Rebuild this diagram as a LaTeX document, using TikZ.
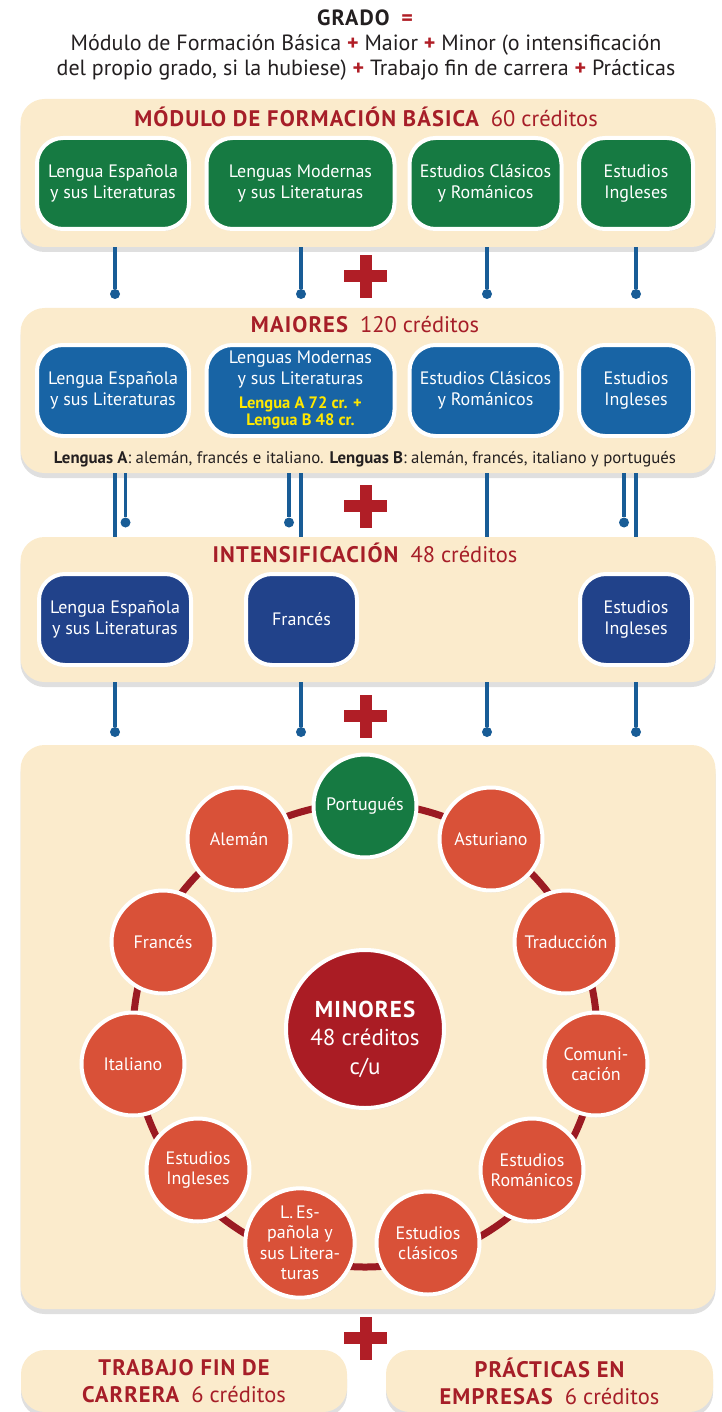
\documentclass[tikz,border=0pt]{standalone}
\usepackage{fontspec}
\setmainfont{PT Sans}
\newfontfamily\wideb[LetterSpace=5]{PT Sans}
\usetikzlibrary{shadows}
\definecolor{beige}{RGB}{251,235,204}
\definecolor{grn}{RGB}{22,122,66}
\definecolor{bluA}{RGB}{24,100,165}
\definecolor{bluB}{RGB}{33,66,138}
\definecolor{crc}{RGB}{217,81,56}
\definecolor{minred}{RGB}{170,28,36}
\definecolor{ttlred}{RGB}{166,30,40}
\definecolor{cblue}{RGB}{24,92,150}
\definecolor{ringred}{RGB}{155,26,34}
\definecolor{plsred}{RGB}{176,30,38}
\definecolor{hdtxt}{RGB}{35,31,32}
\definecolor{ylw}{RGB}{255,232,0}
\newcommand{\bw}[1]{{\wideb\bfseries #1}}
\begin{document}
\begin{tikzpicture}[x=1pt,y=-1pt,
  panel/.style={fill=beige, rounded corners=24pt, inner sep=0pt,
    drop shadow={shadow xshift=0pt, shadow yshift=-5pt, opacity=0.25}},
  ttl/.style={text=ttlred, font=\fontsize{22.5}{26}\selectfont, align=center, inner sep=0pt},
  cbox/.style={rounded corners=26pt, draw=white, line width=4pt, text=white, align=center,
    font=\fontsize{18}{20.5}\selectfont, minimum height=91pt, inner sep=0pt,
    drop shadow={shadow xshift=1pt, shadow yshift=-2pt, opacity=0.2}},
  gbox/.style={cbox, fill=grn},
  abox/.style={cbox, fill=bluA},
  bbox/.style={cbox, fill=bluB},
  conn/.style={draw=cblue, line width=3.5pt},
  dot/.style={circle, fill=cblue, inner sep=0pt, minimum size=10pt},
  mc/.style={circle, fill=crc, draw=white, line width=4pt, minimum size=103pt, inner sep=0pt,
    text=white, align=center, font=\fontsize{18}{20.5}\selectfont,
    drop shadow={shadow xshift=1pt, shadow yshift=-2pt, opacity=0.2}},
  pics/redplus/.style={code={
    \fill[plsred] (-21.5,-6) rectangle (21.5,6);
    \fill[plsred] (-6,-21.5) rectangle (6,21.5);}}
]
\path[use as bounding box] (0,0) rectangle (721,1412);

% header
\node[text=hdtxt, font=\fontsize{22}{26}\selectfont, inner sep=0pt] (h1) at (365,18) {\bw{GRADO}\ \ \textcolor{plsred}{\bw{=}}};
\node[text=hdtxt, font=\fontsize{22}{25}\selectfont, align=center, inner sep=0pt] (h2) at (366,58)
  {Módulo de Formación Básica \textcolor{plsred}{\textbf{+}} Maior \textcolor{plsred}{\textbf{+}} Minor (o intensificación\\
   del propio grado, si la hubiese) \textcolor{plsred}{\textbf{+}} Trabajo fin de carrera \textcolor{plsred}{\textbf{+}} Prácticas};

% panels
\node[panel, minimum width=695pt, minimum height=148pt] (p1) at (368,173) {};
\node[panel, minimum width=695pt, minimum height=165pt] (p2) at (368,390.5) {};
\node[panel, minimum width=695pt, minimum height=145pt] (p3) at (368,609.5) {};
\node[panel, minimum width=695pt, minimum height=564pt] (p4) at (368,1027) {};
\node[panel, minimum width=326pt, minimum height=62pt] (p5) at (184,1381) {};
\node[panel, minimum width=327pt, minimum height=62pt] (p6) at (549.5,1381) {};

% connectors gap 1
\node[dot] (d1a) at (115,294) {};
\node[dot] (d1b) at (301,294) {};
\node[dot] (d1c) at (487,294) {};
\node[dot] (d1d) at (636,294) {};
\foreach \d in {d1a,d1b,d1c,d1d} \draw[conn] (p1.south -| \d) -- (\d);
% gap 2
\node[dot] (d2a) at (125.5,522.5) {};
\node[dot] (d2b) at (289,522.5) {};
\node[dot] (d2c) at (624,522.5) {};
\foreach \d in {d2a,d2b,d2c} \draw[conn] (p2.south -| \d) -- (\d);
\foreach \d in {d1a,d1b,d1c,d1d} \draw[conn] (p2.south -| \d) -- (p3.north -| \d);
% gap 3
\node[dot] (d3a) at (115,732) {};
\node[dot] (d3b) at (301,732) {};
\node[dot] (d3c) at (487,732) {};
\node[dot] (d3d) at (636,732) {};
\foreach \d in {d3a,d3b,d3c,d3d} \draw[conn] (p3.south -| \d) -- (\d);

% plus signs
\pic at (365.5,276.5) {redplus};
\pic at (365.5,506) {redplus};
\pic at (365.5,716) {redplus};
\pic at (365.5,1338) {redplus};

% panel 1
\node[ttl] (t1) at (366,117) {\bw{MÓDULO DE FORMACIÓN BÁSICA}\ \ 60 créditos};
\node[gbox, minimum width=152pt] (g1) at (113,183.5) {Lengua Española\\y sus Literaturas};
\node[gbox, minimum width=188pt] (g2) at (300.5,183.5) {Lenguas Modernas\\y sus Literaturas};
\node[gbox, minimum width=152pt] (g3) at (485.5,183.5) {Estudios Clásicos\\y Románicos};
\node[gbox, minimum width=114pt] (g4) at (636,183.5) {Estudios\\Ingleses};

% panel 2
\node[ttl] (t2) at (365,325) {\bw{MAIORES}\ \ 120 créditos};
\node[abox, minimum width=152pt] (a1) at (113,390.5) {Lengua Española\\y sus Literaturas};
\node[abox, minimum width=188pt] (a2) at (300.5,390.5) {Lenguas Modernas\\y sus Literaturas\\[4pt]
  {\color{ylw}\bfseries\fontsize{16.5}{16}\selectfont\begin{tabular}[t]{@{}c@{}}Lengua A 72 cr. +\\Lengua B 48 cr.\end{tabular}}};
\node[abox, minimum width=152pt] (a3) at (485.5,390.5) {Estudios Clásicos\\y Románicos};
\node[abox, minimum width=114pt] (a4) at (636,390.5) {Estudios\\Ingleses};
\node[text=hdtxt, font=\fontsize{16.8}{19}\selectfont, inner sep=0pt] (nt) at (365,459)
  {\textbf{Lenguas A}: alemán, francés e italiano. \textbf{Lenguas B}: alemán, francés, italiano y portugués};

% panel 3
\node[ttl] (t3) at (365,553) {\bw{INTENSIFICACIÓN}\ \ 48 créditos};
\node[bbox, minimum width=152pt] (b1) at (115,619.5) {Lengua Española\\y sus Literaturas};
\node[bbox, minimum width=111pt] (b2) at (301.5,619.5) {Francés};
\node[bbox, minimum width=112pt] (b3) at (636,619.5) {Estudios\\Ingleses};

% panel 4 : minors
\draw[ringred, line width=7pt] (365,1035) circle[radius=232];
\node[mc, fill=grn] (m1) at (365,806) {Portugués};
\node[mc] (m2) at (491,839) {Asturiano};
\node[mc] (m3) at (566,942) {Traducción};
\node[mc] (m4) at (596,1064) {Comuni-\\cación};
\node[mc] (m5) at (532,1170) {Estudios\\Románicos};
\node[mc] (m6) at (428,1243) {Estudios\\clásicos};
\node[mc] (m7) at (300,1243) {L.\,Es-\\pañola y\\sus Litera-\\turas};
\node[mc] (m8) at (198,1170) {Estudios\\Ingleses};
\node[mc] (m9) at (133,1064) {Italiano};
\node[mc] (m10) at (163,942) {Francés};
\node[mc] (m11) at (239,839) {Alemán};
\node[mc, fill=minred, minimum size=158pt] (mc0) at (365,1029) {};
\node[text=white, align=center, font=\fontsize{23}{28.5}\selectfont, inner sep=0pt] (mct) at (365,1039)
  {\bw{MINORES}\\48 créditos\\c/u};

% bottom
\node[ttl, font=\fontsize{22.5}{27}\selectfont] (t5) at (184,1381) {\bw{TRABAJO FIN DE}\\\bw{CARRERA}\ \ 6 créditos};
\node[ttl, font=\fontsize{22.5}{27}\selectfont] (t6) at (549.5,1381) {\bw{PRÁCTICAS EN}\\\bw{EMPRESAS}\ \ 6 créditos};
\end{tikzpicture}
\end{document}
